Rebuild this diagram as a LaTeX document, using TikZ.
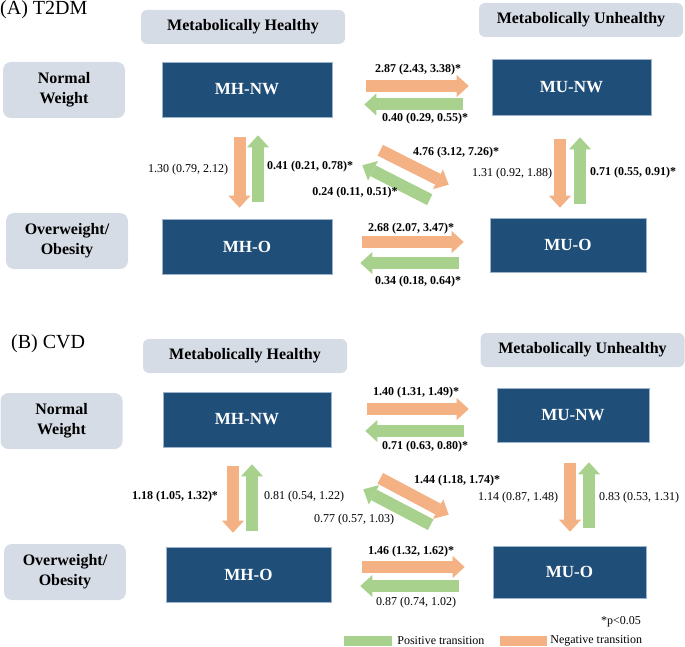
\documentclass[tikz,border=0pt]{standalone}
\usepackage{fontspec}
\setmainfont{Liberation Serif}
\usetikzlibrary{arrows.meta,calc,positioning}
\definecolor{stateblue}{HTML}{1F4E79}
\definecolor{stateedge}{HTML}{9DB3CC}
\definecolor{hdrgray}{HTML}{D6DCE5}
\definecolor{negorange}{HTML}{F4B183}
\definecolor{posgreen}{HTML}{A9D18E}
\tikzset{
  hdr/.style={fill=hdrgray,rounded corners=6pt,minimum width=204pt,minimum height=34pt,inner sep=0pt,font=\fontsize{16}{20}\selectfont\bfseries},
  grp/.style={fill=hdrgray,rounded corners=8pt,minimum width=122pt,minimum height=56pt,inner sep=0pt,align=center,font=\fontsize{16}{20}\selectfont\bfseries},
  state/.style={fill=stateblue,draw=stateedge,line width=0.6pt,text=white,minimum height=55pt,inner sep=0pt,font=\fontsize{17}{20}\selectfont\bfseries},
  negarrow/.style={negorange,line width=12pt,-{Triangle[length=12pt,width=22pt,line width=0pt]}},
  posarrow/.style={posgreen,line width=12pt,-{Triangle[length=12pt,width=22pt,line width=0pt]}},
  lab/.style={inner sep=0pt,font=\fontsize{12}{14}\selectfont},
  labb/.style={inner sep=0pt,font=\fontsize{12}{14}\selectfont\bfseries},
}
\begin{document}
\begin{tikzpicture}[x=1pt,y=-1pt]
\useasboundingbox (0,0) rectangle (685,647);

% (A) T2DM
\node[anchor=base west,inner sep=0pt,font=\fontsize{20}{24}\selectfont] (titleA) at (0,15) {(A) T2DM};
\node[hdr] (mhA) at (243,27) {Metabolically Healthy};
\node[hdr] (muA) at (581,20) {Metabolically Unhealthy};
\node[grp] (nwA) at (64,90) {Normal\\Weight};
\node[grp] (obA) at (67,241) {Overweight/\\Obesity};
\node[state,minimum width=170pt] (mhnwA) at (247,89.5) {MH-NW};
\node[state,minimum width=159pt,minimum height=56pt] (munwA) at (571.5,87) {MU-NW};
\node[state,minimum width=170pt] (mhoA) at (247,246.5) {MH-O};
\node[state,minimum width=156pt,minimum height=54pt] (muoA) at (568,245) {MU-O};

\draw[negarrow] ($(mhnwA.east)+(34,-3.5)$) -- ($(mhnwA.east -| munwA.west)+(-23,-3.5)$);
\draw[posarrow] ($(mhnwA.east -| munwA.west)+(-29,15)$) -- ($(mhnwA.east)+(32,15)$);
\draw[negarrow] ($(mhnwA.south)+(-7.5,20)$) -- ($(mhoA.north)+(-7.5,-11)$);
\draw[posarrow] ($(mhoA.north)+(11,-17)$) -- ($(mhnwA.south)+(11,18)$);
\draw[negarrow] ($(mhnwA.south east)+(48,33)$) -- ($(muoA.north west)+(-41,-33)$);
\draw[posarrow] ($(muoA.north west)+(-60,-18)$) -- ($(mhnwA.south east)+(30,48)$);
\draw[negarrow] ($(munwA.south)+(-11.5,24)$) -- ($(muoA.north)+(-8,-10)$);
\draw[posarrow] ($(muoA.north)+(12,-14)$) -- ($(munwA.south)+(8.5,22)$);
\draw[negarrow] ($(mhoA.east)+(30,-4.5)$) -- ($(mhoA.east -| muoA.west)+(-26,-4.5)$);
\draw[posarrow] ($(mhoA.east -| muoA.west)+(-31,16.5)$) -- ($(mhoA.east)+(28,16.5)$);

\node[labb] (rA1) at (418,70) {2.87 (2.43, 3.38)*};
\node[labb] (rA2) at (425,119) {0.40 (0.29, 0.55)*};
\node[lab] (rA3) at (188,170) {1.30 (0.79, 2.12)};
\node[labb] (rA4) at (310,167) {0.41 (0.21, 0.78)*};
\node[labb] (rA5) at (456,153) {4.76 (3.12, 7.26)*};
\node[labb] (rA6) at (355,193) {0.24 (0.11, 0.51)*};
\node[lab] (rA7) at (512,174) {1.31 (0.92, 1.88)};
\node[labb] (rA8) at (633,173) {0.71 (0.55, 0.91)*};
\node[labb] (rA9) at (411,229) {2.68 (2.07, 3.47)*};
\node[labb] (rA10) at (418,282) {0.34 (0.18, 0.64)*};

% (B) CVD
\node[anchor=base west,inner sep=0pt,font=\fontsize{20}{24}\selectfont] (titleB) at (11,348) {(B) CVD};
\node[hdr] (mhB) at (245,356) {Metabolically Healthy};
\node[hdr] (muB) at (582.5,350) {Metabolically Unhealthy};
\node[grp] (nwB) at (61.5,421) {Normal\\Weight};
\node[grp] (obB) at (65,572) {Overweight/\\Obesity};
\node[state,minimum width=168pt] (mhnwB) at (247,419.5) {MH-NW};
\node[state,minimum width=152pt,minimum height=54pt] (munwB) at (573,415) {MU-NW};
\node[state,minimum width=165pt] (mhoB) at (248.5,574.5) {MH-O};
\node[state,minimum width=153pt,minimum height=52pt] (muoB) at (569.5,572) {MU-O};

\draw[negarrow] ($(mhnwB.east)+(36,-10.5)$) -- ($(mhnwB.east -| munwB.west)+(-28,-10.5)$);
\draw[posarrow] ($(mhnwB.east -| munwB.west)+(-33,11.5)$) -- ($(mhnwB.east)+(34,11.5)$);
\draw[negarrow] ($(mhnwB.south)+(-14,19)$) -- ($(mhoB.north)+(-15.5,-14)$);
\draw[posarrow] ($(mhoB.north)+(3.5,-16)$) -- ($(mhnwB.south)+(5,17)$);
\draw[negarrow] ($(mhnwB.south east)+(49,31)$) -- ($(muoB.north west)+(-44,-31)$);
\draw[posarrow] ($(muoB.north west)+(-62,-21)$) -- ($(mhnwB.south east)+(32,42)$);
\draw[negarrow] ($(munwB.south)+(-3,21)$) -- ($(muoB.north)+(0.5,-14)$);
\draw[posarrow] ($(muoB.north)+(19.5,-18)$) -- ($(munwB.south)+(16,20)$);
\draw[negarrow] ($(mhoB.east)+(31,-7.5)$) -- ($(mhoB.east -| muoB.west)+(-28,-7.5)$);
\draw[posarrow] ($(mhoB.east -| muoB.west)+(-34,11.5)$) -- ($(mhoB.east)+(29,11.5)$);

\node[labb] (rB1) at (416,393) {1.40 (1.31, 1.49)*};
\node[labb] (rB2) at (425,447) {0.71 (0.63, 0.80)*};
\node[labb] (rB3) at (175,497) {1.18 (1.05, 1.32)*};
\node[lab] (rB4) at (304,497) {0.81 (0.54, 1.22)};
\node[labb] (rB5) at (457,481) {1.44 (1.18, 1.74)*};
\node[lab] (rB6) at (354,520) {0.77 (0.57, 1.03)};
\node[lab] (rB7) at (518,498) {1.14 (0.87, 1.48)};
\node[lab] (rB8) at (639,498) {0.83 (0.53, 1.31)};
\node[labb] (rB9) at (411,552) {1.46 (1.32, 1.62)*};
\node[lab] (rB10) at (416,603) {0.87 (0.74, 1.02)};

% legend
\node[lab] (sig) at (621,622) {*p<0.05};
\node[fill=posgreen,minimum width=48pt,minimum height=10pt,inner sep=0pt] (keypos) at (368,641) {};
\node[lab,right=5pt of keypos] (keypostxt) {Positive transition};
\node[fill=negorange,minimum width=47pt,minimum height=10pt,inner sep=0pt] (keyneg) at (523.5,641) {};
\node[lab,right=3pt of keyneg] (keynegtxt) {Negative transition};
\end{tikzpicture}
\end{document}
